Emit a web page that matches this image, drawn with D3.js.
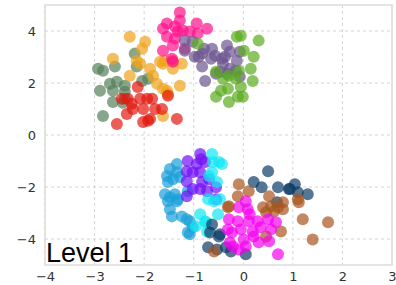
<!DOCTYPE html>
<html>
<head>
<meta charset="utf-8">
<script src="https://cdn.jsdelivr.net/npm/d3@7"></script>
<style>
  body { margin: 0; background: #fff; }
  svg { display: block; }
</style>
</head>
<body>
<script>
// scatter clusters, values
const grayGreen = [[-2.93,2.55],[-2.83,2.47],[-2.59,2.63],[-2.19,3.13],[-2.15,2.63],[-2.55,2.05],[-2.89,1.70],[-2.63,1.70],[-2.39,1.89],[-2.39,1.66],[-2.63,1.27],[-2.39,1.39],[-2.04,2.08],[-1.92,2.16],[-2.83,0.73],[-2.43,1.24],[-2.69,1.97]];
const orange = [[-2.29,3.78],[-1.98,3.59],[-2.04,3.32],[-2.63,2.93],[-2.15,2.86],[-2.08,2.74],[-1.88,2.55],[-1.82,2.28],[-1.68,2.82],[-1.62,2.74],[-1.42,2.55],[-2.29,2.28],[-1.74,1.97],[-1.62,1.78],[-1.28,1.89],[-1.62,0.73],[-1.54,1.70],[-1.58,2.86],[-1.42,2.86],[-1.24,2.74],[-1.52,1.58]];
const red = [[-2.13,1.85],[-2.08,1.39],[-1.94,1.39],[-1.84,1.39],[-1.52,1.51],[-2.45,1.39],[-2.33,1.39],[-2.23,1.00],[-2.02,1.00],[-1.78,1.00],[-1.64,1.00],[-2.35,0.81],[-1.88,0.62],[-2.02,0.50],[-2.55,0.42],[-1.34,0.62],[-2.25,1.20],[-1.92,0.55]];
const pink = [[-1.28,4.71],[-1.28,4.40],[-1.54,4.29],[-1.38,4.17],[-1.22,4.02],[-0.94,4.29],[-0.73,4.09],[-0.92,3.90],[-1.54,3.78],[-1.38,3.71],[-1.42,3.44],[-1.62,3.24],[-1.44,2.93],[-1.42,2.82],[-1.18,3.32],[-1.08,3.98],[-1.62,4.09],[-1.32,3.98]];
const purpleGray = [[-1.18,3.63],[-1.02,3.59],[-1.18,3.24],[-0.98,3.01],[-0.83,3.13],[-0.63,3.32],[-0.57,3.05],[-0.33,3.44],[-0.27,3.20],[-0.37,3.01],[-0.07,3.20],[-0.43,2.93],[-0.13,2.86],[-0.83,2.63],[-0.41,2.74],[-0.27,2.55],[-0.47,2.43],[-0.33,2.36],[-0.07,2.24],[-0.77,2.08],[-0.65,2.93],[-0.90,3.01],[-0.15,2.47],[-0.55,2.36],[-0.79,3.32]];
const green = [[-0.13,3.78],[-0.05,3.82],[0.31,3.63],[0.01,3.24],[0.21,3.01],[0.15,2.55],[0.19,2.08],[-0.09,2.47],[-0.29,2.28],[-0.41,2.16],[-0.15,2.16],[-0.05,1.85],[-0.31,1.78],[-0.45,1.70],[-0.55,1.47],[-0.29,1.27],[-0.11,1.47],[-0.01,1.47],[-0.92,3.51],[-0.55,2.43]];
const skyBlue = [[-1.34,-1.12],[-1.48,-1.31],[-1.54,-1.58],[-1.42,-1.70],[-1.52,-1.81],[-1.28,-1.62],[-1.58,-2.28],[-1.48,-2.39],[-1.32,-2.47],[-1.48,-2.86],[-1.44,-3.13],[-1.24,-3.13],[-1.14,-3.24],[-1.08,-3.82],[-1.12,-2.16],[-1.34,-1.43],[-1.38,-2.28],[-1.08,-3.32],[-1.02,-3.55],[-1.12,-3.75],[-1.34,-2.55],[-1.52,-2.55]];
const violet = [[-0.87,-0.73],[-1.12,-1.00],[-0.94,-1.12],[-0.77,-1.04],[-1.14,-1.39],[-1.02,-1.43],[-0.87,-1.43],[-1.14,-1.78],[-0.83,-1.81],[-1.02,-2.08],[-0.87,-2.08],[-0.73,-2.16],[-1.14,-2.36],[-0.85,-0.93],[-0.69,-1.70],[-0.55,-2.47],[-0.55,-2.01]];
const cyan = [[-0.63,-0.73],[-0.61,-1.04],[-0.43,-1.12],[-0.63,-1.43],[-0.53,-1.81],[-0.71,-2.47],[-0.47,-2.47],[-0.49,-1.04],[-0.69,-1.58],[-0.59,-2.55],[-0.51,-3.05],[-0.75,-3.36],[-0.96,-3.51],[-0.87,-3.05],[-0.77,-3.32],[-0.73,-3.71]];
const navy = [[0.50,-1.39],[0.21,-1.81],[0.37,-2.01],[0.70,-2.01],[0.94,-2.08],[1.04,-1.89],[1.10,-2.20],[1.30,-2.28],[0.68,-2.59],[0.92,-2.08],[-0.63,-3.44],[-0.67,-3.75],[-0.47,-3.82],[-0.71,-4.32],[-0.53,-4.40],[-0.49,-3.90],[-0.35,-4.32],[0.05,-4.59],[-0.25,-4.48]];
const brown = [[-0.09,-1.89],[-0.11,-2.36],[0.11,-2.16],[0.52,-2.36],[0.40,-2.78],[0.56,-2.74],[0.70,-2.78],[0.80,-2.86],[0.62,-2.93],[0.80,-2.59],[0.46,-2.97],[1.10,-2.47],[1.12,-2.59],[1.20,-3.24],[1.71,-3.36],[1.40,-4.02],[0.76,-3.71],[0.46,-3.90],[-0.29,-2.74],[-0.59,-4.48],[-0.31,-2.78]];
const magenta = [[0.05,-2.55],[-0.09,-2.78],[0.09,-2.86],[-0.29,-3.24],[-0.11,-3.32],[-0.31,-3.63],[-0.05,-3.63],[0.11,-3.32],[0.29,-3.32],[0.35,-3.55],[0.50,-3.24],[0.66,-3.36],[0.56,-3.63],[0.21,-3.90],[0.01,-4.02],[-0.21,-4.29],[0.05,-4.29],[0.31,-4.13],[0.52,-4.09],[0.70,-4.59],[-0.09,-4.40],[0.19,-3.71],[-0.23,-3.75],[-0.27,-4.13],[0.13,-3.05]];

const xTicks = [-4, -3, -2, -1, 0, 1, 2, 3];
const yTicks = [-4, -2, 0, 2, 4];
const label = 'Level 1';

// drawing order and colours
const series = [
  { data: grayGreen, color: '#55805a' },
  { data: orange, color: '#f0a31a' },
  { data: red, color: '#e3180e' },
  { data: pink, color: '#ff0f8c' },
  { data: purpleGray, color: '#6c5690' },
  { data: green, color: '#5aab1e' },
  { data: skyBlue, color: '#1a9fd8' },
  { data: violet, color: '#7010f8' },
  { data: cyan, color: '#10e8f4' },
  { data: navy, color: '#0d3c66' },
  { data: brown, color: '#a9561e' },
  { data: magenta, color: '#f500f0' }
];

const width = 396;
const height = 285;
const margin = { top: 5, right: 4, bottom: 20, left: 45 };
const innerW = width - margin.left - margin.right;
const innerH = height - margin.top - margin.bottom;

const svg = d3.select('body')
  .append('svg')
  .attr('width', width)
  .attr('height', height);

const g = svg.append('g')
  .attr('transform', `translate(${margin.left}, ${margin.top})`);

const x = d3.scaleLinear().domain([-4, 3]).range([0, innerW]);
const y = d3.scaleLinear().domain([-5, 5]).range([innerH, 0]);

const fmt = d => (d < 0 ? '\u2212' + Math.abs(d) : String(d));

// grid lines
g.append('g')
  .selectAll('line')
  .data(xTicks)
  .enter()
  .append('line')
  .attr('x1', d => x(d)).attr('x2', d => x(d))
  .attr('y1', 0).attr('y2', innerH)
  .attr('stroke', '#d4d4d4')
  .attr('stroke-dasharray', '3,3');

g.append('g')
  .selectAll('line')
  .data(yTicks)
  .enter()
  .append('line')
  .attr('x1', 0).attr('x2', innerW)
  .attr('y1', d => y(d)).attr('y2', d => y(d))
  .attr('stroke', '#d4d4d4')
  .attr('stroke-dasharray', '3,3');

// axes (labels only, no tick marks)
const xAxis = g.append('g')
  .attr('transform', `translate(0, ${innerH})`)
  .call(d3.axisBottom(x).tickValues(xTicks).tickFormat(fmt).tickSize(0).tickPadding(7));
const yAxis = g.append('g')
  .call(d3.axisLeft(y).tickValues(yTicks).tickFormat(fmt).tickSize(0).tickPadding(9));

[xAxis, yAxis].forEach(a => {
  a.select('.domain').remove();
  a.selectAll('text')
    .attr('fill', '#333')
    .style('font-family', 'DejaVu Sans, sans-serif')
    .style('font-size', '13px');
});

// points
series.forEach(s => {
  g.append('g')
    .selectAll('circle')
    .data(s.data)
    .enter()
    .append('circle')
    .attr('cx', d => x(d[0]))
    .attr('cy', d => y(d[1]))
    .attr('r', 6)
    .attr('fill', s.color)
    .attr('fill-opacity', 0.7);
});

// frame
g.append('rect')
  .attr('width', innerW)
  .attr('height', innerH)
  .attr('fill', 'none')
  .attr('stroke', '#dcdcdc')
  .attr('stroke-width', 1.5);

g.append('text')
  .attr('x', 1)
  .attr('y', innerH - 3)
  .style('font-family', 'Liberation Sans, Arial, sans-serif')
  .style('font-size', '27px')
  .attr('fill', '#000')
  .text(label);
</script>
</body>
</html>
